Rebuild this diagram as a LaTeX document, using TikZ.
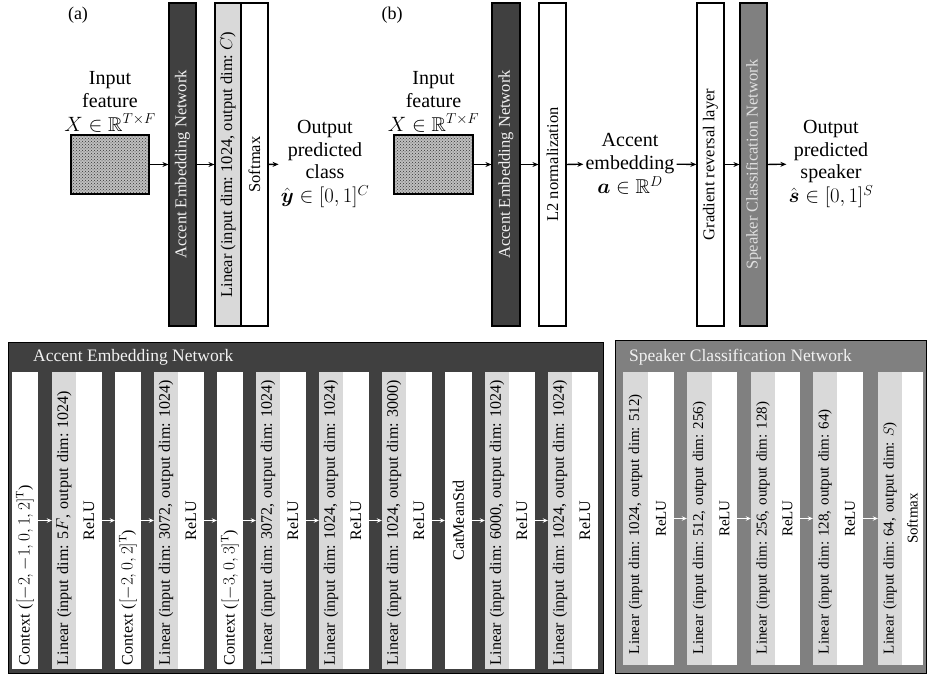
\documentclass[tikz,border=0pt]{standalone}
\usepackage{amsmath}
\usepackage{amssymb}
\usepackage{fontspec}
\setmainfont{Liberation Serif}
\usetikzlibrary{arrows.meta,positioning,patterns}

\begin{document}
\frenchspacing
\begin{tikzpicture}[x=1pt, y=-1pt,
    big/.style={font=\fontsize{20}{22.5}\selectfont, align=center, inner sep=2pt},
    tag/.style={font=\fontsize{18}{20}\selectfont, inner sep=0pt},
    bar/.style={draw, line width=1.2pt, rotate=90, minimum width=323,
      minimum height=#1, inner sep=0pt, font=\fontsize{16.5}{18}\selectfont},
    bar/.default=27,
    feat/.style={draw, line width=1.6pt, minimum width=78, minimum height=59,
      inner sep=0pt, preaction={fill=black!25}, pattern=crosshatch dots,
      pattern color=black!80},
    flow/.style={-{Stealth[length=6pt, width=5pt]}, line width=1.3pt},
    wflow/.style={-{Stealth[length=5pt, width=4.5pt]}, line width=1pt, white},
    cell/.style={rotate=90, inner sep=0pt, minimum height=#1},
    lcell/.style={cell=#1, minimum width=297, font=\fontsize{16}{18}\selectfont},
    rcell/.style={cell=#1, minimum width=293, font=\fontsize{15}{17}\selectfont},
    ltxt/.style={text width=289pt, align=left},
    rtxt/.style={text width=271pt, align=left},
    head/.style={anchor=west, inner sep=0pt, text=black!5,
      font=\fontsize{17.5}{19}\selectfont}
  ]
  \useasboundingbox (0,0) rectangle (928,677);

  % (a) accent classifier
  \node[tag] (tagA) at (78,15) {(a)};
  \node[feat] (inA) at (110,164.5) {};
  \node[big, above=0pt of inA] (inAl) {Input\\feature\\[1.5pt]$X\in\mathbb{R}^{T\times F}$};
  \node[bar, fill=black!75, text=black!5] (aenA) at (182.5,164.5) {Accent Embedding Network};
  \node[bar=26, fill=black!15] (linA) at (228,164.5) {Linear (input dim: 1024, output dim: $C$)};
  \node[bar, fill=white] (smA) at (254.5,164.5) {Softmax};
  \node[big] (outA) at (325,164) {Output\\predicted\\class\\[1.5pt]$\hat{\boldsymbol{y}}\in[0,1]^C$};
  \draw[flow] (inA) -- (aenA);
  \draw[flow] (aenA) -- (linA);
  \draw[flow] (smA) -- (outA);

  % (b) with speaker adversary
  \node[tag] (tagB) at (392,15) {(b)};
  \node[feat, minimum width=79] (inB) at (433.5,164.5) {};
  \node[big, above=0pt of inB] (inBl) {Input\\feature\\[1.5pt]$X\in\mathbb{R}^{T\times F}$};
  \node[bar=28, fill=black!75, text=black!5] (aenB) at (506,164.5) {Accent Embedding Network};
  \node[bar, fill=white] (l2B) at (552.5,164.5) {L2 normalization};
  \node[big] (embB) at (630,164) {Accent\\embedding\\[2pt]$\boldsymbol{a}\in\mathbb{R}^D$};
  \node[bar, fill=white] (grB) at (710.5,164.5) {Gradient reversal layer};
  \node[bar, fill=black!50, text=black!12] (scB) at (753.5,164.5) {Speaker Classification Network};
  \node[big] (outB) at (831,164) {Output\\predicted\\speaker\\[1.5pt]$\hat{\boldsymbol{s}}\in[0,1]^S$};
  \draw[flow] (inB) -- (aenB);
  \draw[flow] (aenB) -- (l2B);
  \draw[flow] (l2B) -- (embB);
  \draw[flow] (embB) -- (grB);
  \draw[flow] (grB) -- (scB);
  \draw[flow] (scB) -- (outB);

  % accent embedding network, expanded
  \draw[fill=black!75, line width=1pt] (8,342) rectangle (603,673);
  \node[head] (aenT) at (33,357) {Accent Embedding Network};
  \node[lcell=26, fill=white, ltxt] (ctx1) at (25,520.5) {Context ($[-2,-1,0,1,2]^{\mathrm{T}}$)};
  \node[lcell=24, fill=black!15, ltxt] (lin1) at (64,520.5) {Linear (input dim: 5$F$, output dim: 1024)};
  \node[lcell=26, fill=white] (relu1) at (89,520.5) {ReLU};
  \node[lcell=26, fill=white, ltxt] (ctx2) at (128,520.5) {Context ($[-2,0,2]^{\mathrm{T}}$)};
  \node[lcell=24, fill=black!15, ltxt] (lin2) at (166,520.5) {Linear (input dim: 3072, output dim: 1024)};
  \node[lcell=26, fill=white] (relu2) at (191,520.5) {ReLU};
  \node[lcell=26, fill=white, ltxt] (ctx3) at (230,520.5) {Context ($[-3,0,3]^{\mathrm{T}}$)};
  \node[lcell=24, fill=black!15, ltxt] (lin3) at (268,520.5) {Linear (input dim: 3072, output dim: 1024)};
  \node[lcell=26, fill=white] (relu3) at (293,520.5) {ReLU};
  \node[lcell=24, fill=black!15, ltxt] (lin4) at (331,520.5) {Linear (input dim: 1024, output dim: 1024)};
  \node[lcell=26, fill=white] (relu4) at (356,520.5) {ReLU};
  \node[lcell=24, fill=black!15, ltxt] (lin5) at (394,520.5) {Linear (input dim: 1024, output dim: 3000)};
  \node[lcell=26, fill=white] (relu5) at (419,520.5) {ReLU};
  \node[lcell=27, fill=white] (cms) at (458.5,520.5) {CatMeanStd};
  \node[lcell=24, fill=black!15, ltxt] (lin6) at (497,520.5) {Linear (input dim: 6000, output dim: 1024)};
  \node[lcell=26, fill=white] (relu6) at (522,520.5) {ReLU};
  \node[lcell=24, fill=black!15, ltxt] (lin7) at (560,520.5) {Linear (input dim: 1024, output dim: 1024)};
  \node[lcell=26, fill=white] (relu7) at (585,520.5) {ReLU};
  \draw[wflow] (ctx1) -- (lin1);
  \draw[wflow] (relu1) -- (ctx2);
  \draw[wflow] (ctx2) -- (lin2);
  \draw[wflow] (relu2) -- (ctx3);
  \draw[wflow] (ctx3) -- (lin3);
  \draw[wflow] (relu3) -- (lin4);
  \draw[wflow] (relu4) -- (lin5);
  \draw[wflow] (relu5) -- (cms);
  \draw[wflow] (cms) -- (lin6);
  \draw[wflow] (relu6) -- (lin7);

  % speaker classification network, expanded
  \draw[fill=black!50, line width=1pt] (615,340) rectangle (926,673);
  \node[head] (scT) at (629,357) {Speaker Classification Network};
  \node[rcell=25, fill=black!15, rtxt] (slin1) at (635.5,518.5) {Linear (input dim: 1024, output dim: 512)};
  \node[rcell=26, fill=white] (srelu1) at (661,518.5) {ReLU};
  \node[rcell=25, fill=black!15, rtxt] (slin2) at (699.5,518.5) {Linear (input dim: 512, output dim: 256)};
  \node[rcell=25, fill=white] (srelu2) at (724.5,518.5) {ReLU};
  \node[rcell=24, fill=black!15, rtxt] (slin3) at (763,518.5) {Linear (input dim: 256, output dim: 128)};
  \node[rcell=25, fill=white] (srelu3) at (787.5,518.5) {ReLU};
  \node[rcell=24, fill=black!15, rtxt] (slin4) at (825,518.5) {Linear (input dim: 128, output dim: 64)};
  \node[rcell=26, fill=white] (srelu4) at (850,518.5) {ReLU};
  \node[rcell=24, fill=black!15, rtxt] (slin5) at (890,518.5) {Linear (input dim: 64, output dim: $S$)};
  \node[rcell=21, fill=white] (ssm) at (912.5,518.5) {Softmax};
  \draw[wflow] (srelu1) -- (slin2);
  \draw[wflow] (srelu2) -- (slin3);
  \draw[wflow] (srelu3) -- (slin4);
  \draw[wflow] (srelu4) -- (slin5);
\end{tikzpicture}
\end{document}
